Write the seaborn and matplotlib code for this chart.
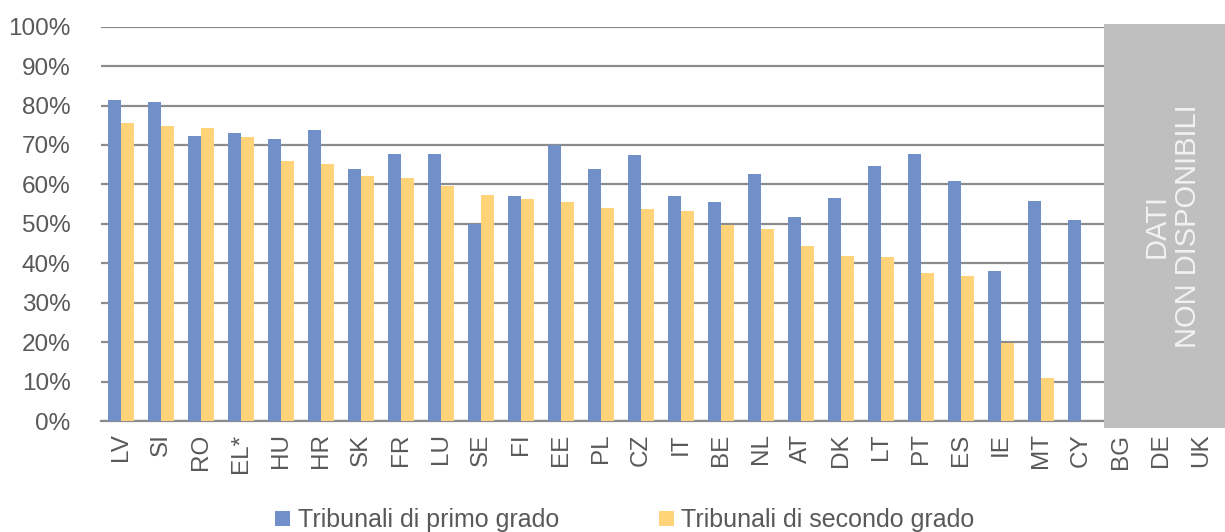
import numpy as np
import pandas as pd
import matplotlib
matplotlib.use("Agg")
import matplotlib.pyplot as plt
from matplotlib.patches import Rectangle, Patch
from matplotlib.ticker import FixedLocator, PercentFormatter
import seaborn as sns

# Paesi (ordinati per tribunali di secondo grado)
paesi = ["LV", "SI", "RO", "EL*", "HU", "HR", "SK", "FR", "LU", "SE", "FI", "EE",
         "PL", "CZ", "IT", "BE", "NL", "AT", "DK", "LT", "PT", "ES", "IE", "MT",
         "CY", "BG", "DE", "UK"]

# Quota percentuale per grado di giudizio (NaN = dato non disponibile)
primo_grado = [81.4, 80.9, 72.4, 73.0, 71.5, 73.7, 63.9, 67.6, 67.7, 50.0, 57.1, 70.0,
               63.9, 67.4, 57.0, 55.5, 62.6, 51.8, 56.6, 64.7, 67.7, 60.9, 38.0, 55.9,
               50.9, np.nan, np.nan, np.nan]
secondo_grado = [75.5, 74.9, 74.4, 72.0, 65.9, 65.3, 62.1, 61.7, 59.5, 57.3, 56.2, 55.6,
                 53.9, 53.8, 53.3, 49.7, 48.6, 44.4, 41.8, 41.6, 37.6, 36.8, 19.9, 11.0,
                 np.nan, np.nan, np.nan, np.nan]

serie = ["Tribunali di primo grado", "Tribunali di secondo grado"]
colori = ["#7190C9", "#FFD479"]
non_disponibili = ["BG", "DE", "UK"]

df = pd.DataFrame({
    "paese": paesi * 2,
    "grado": [serie[0]] * len(paesi) + [serie[1]] * len(paesi),
    "valore": primo_grado + secondo_grado,
}).dropna()

sns.set_theme(style="white")
plt.rcParams["font.family"] = ["Liberation Sans", "DejaVu Sans"]
testo = "#595959"
griglia = "#8C8C8C"

fig = plt.figure(figsize=(12.25, 5.32), dpi=100)
ax = fig.add_axes([101 / 1225, 1 - 421 / 532, 1120 / 1225, (421 - 26.7) / 532])

sns.barplot(data=df, x="paese", y="valore", hue="grado", order=paesi,
            hue_order=serie, palette=colori, width=0.66, gap=0,
            saturation=1, edgecolor="none", linewidth=0, legend=False, ax=ax,
            zorder=3)

ax.set_xlim(-0.5, len(paesi) - 0.5)
ax.set_ylim(0, 100)
ax.set_xlabel("")
ax.set_ylabel("")

# Griglia orizzontale ogni 10%
ax.yaxis.set_major_locator(FixedLocator(np.arange(0, 101, 10)))
ax.yaxis.set_major_formatter(PercentFormatter(decimals=0))
ax.grid(axis="y", color=griglia, linewidth=1.6, zorder=1)
ax.grid(axis="x", visible=False)
ax.set_axisbelow(True)

for lato in ["left", "right", "top"]:
    ax.spines[lato].set_visible(False)
ax.spines["bottom"].set_color(griglia)
ax.spines["bottom"].set_linewidth(1.6)

ax.tick_params(axis="y", length=0, pad=22, labelsize=17.5, labelcolor=testo)
ax.tick_params(axis="x", which="major", length=0, pad=9, labelsize=17.5,
               labelcolor=testo, rotation=90)
ax.set_xticks(np.arange(-0.5, len(paesi), 1.0), minor=True)
ax.tick_params(axis="x", which="minor", length=7, width=1.6, color=griglia,
               direction="out")

# Riquadro per i paesi senza dati
x0 = paesi.index(non_disponibili[0]) - 0.43
ax.add_patch(Rectangle((x0, -1.8), len(paesi) - 0.5 - x0 + 0.2, 102.5,
                       facecolor="#BFBFBF", edgecolor="none", clip_on=False,
                       zorder=4))
ax.text(x0 + (len(paesi) - 0.5 - x0) / 2 + 0.25, 49.5, "DATI\nNON DISPONIBILI",
        rotation=90, ha="center", va="center", multialignment="center",
        fontsize=21, color="#F2F2F2", zorder=5, linespacing=1.15)

maniglie = [Patch(facecolor=c, edgecolor="none") for c in colori]
fig.legend(maniglie, serie, loc="center", bbox_to_anchor=(0.51, 0.022),
           ncol=2, frameon=False, fontsize=18, labelcolor=testo,
           handlelength=0.6, handleheight=0.6, handletextpad=0.3,
           columnspacing=4.0)

fig.savefig("out.png", dpi=100)
